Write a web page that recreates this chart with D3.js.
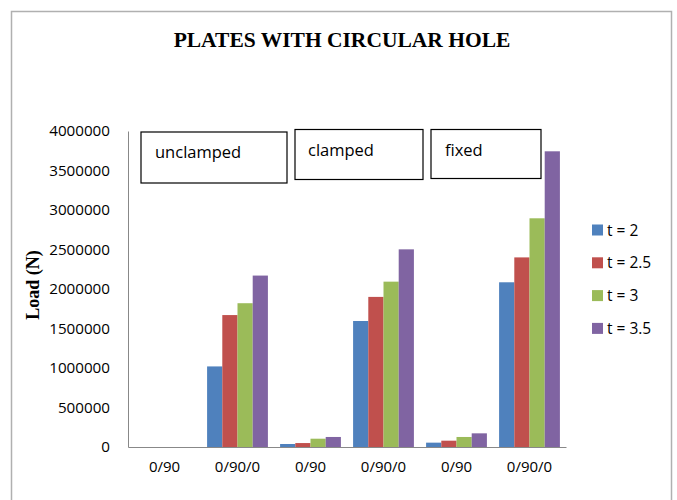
<!DOCTYPE html>
<html>
<head>
<meta charset="utf-8">
<script src="https://cdn.jsdelivr.net/npm/d3@7"></script>
<style>
  html, body { margin: 0; padding: 0; background: #fff; }
  svg { display: block; }
</style>
</head>
<body>
<svg id="chart" width="677" height="500"></svg>
<script>
const categories = ["0/90", "0/90/0", "0/90", "0/90/0", "0/90", "0/90/0"];
const seriesNames = ["t = 2", "t = 2.5", "t = 3", "t = 3.5"];
const seriesColors = ["#4f81bd", "#c0504d", "#9bbb59", "#8064a2"];
const t2  = [0, 1020000, 38000, 1595000, 55000, 2085000];
const t25 = [0, 1670000, 50000, 1900000, 80000, 2400000];
const t3  = [0, 1820000, 105000, 2093000, 127000, 2895000];
const t35 = [0, 2170000, 127000, 2502000, 173000, 3743000];
const yTicks = [0, 500000, 1000000, 1500000, 2000000, 2500000, 3000000, 3500000, 4000000];
const boxLabels = ["unclamped", "clamped", "fixed"];
const title = "PLATES WITH CIRCULAR HOLE";
const yTitle = "Load (N)";

const series = [t2, t25, t3, t35];

const svg = d3.select("#chart");

// outer frame
svg.append("rect")
  .attr("x", 11.5).attr("y", 11.5)
  .attr("width", 660).attr("height", 500)
  .attr("fill", "#fff")
  .attr("stroke", "#b0b0b0").attr("stroke-width", 1.5);

const plot = { left: 128, right: 566, top: 131, bottom: 447 };

const x0 = d3.scaleBand()
  .domain(d3.range(categories.length))
  .range([plot.left, plot.right])
  .paddingInner(0.167).paddingOuter(0.0835);

const x1 = d3.scaleBand()
  .domain(d3.range(series.length))
  .range([0, x0.bandwidth()]);

const y = d3.scaleLinear().domain([0, 4000000]).range([plot.bottom, plot.top]);

// title
svg.append("text")
  .attr("x", 342).attr("y", 47)
  .attr("text-anchor", "middle")
  .attr("font-family", "'Liberation Serif', 'Times New Roman', serif")
  .attr("font-weight", "bold")
  .attr("font-size", 21.5)
  .attr("fill", "#000")
  .text(title);

// y axis title
svg.append("text")
  .attr("transform", "translate(39,285) rotate(-90)")
  .attr("text-anchor", "middle")
  .attr("font-family", "'Liberation Serif', 'Times New Roman', serif")
  .attr("font-weight", "bold")
  .attr("font-size", 18)
  .attr("fill", "#000")
  .text(yTitle);

// y axis
const yAxis = d3.axisLeft(y)
  .tickValues(yTicks)
  .tickSize(0)
  .tickPadding(18)
  .tickFormat(d3.format("d"));
const gy = svg.append("g")
  .attr("transform", `translate(${plot.left},0)`)
  .call(yAxis);
gy.select(".domain").attr("stroke", "#888").attr("stroke-width", 1);
gy.selectAll("text")
  .attr("font-family", "'Open Sans', 'Liberation Sans', sans-serif")
  .attr("font-size", 15.2)
  .attr("fill", "#000");

// bars
const groups = svg.append("g").selectAll("g")
  .data(categories.map((c, i) => i))
  .join("g")
  .attr("transform", i => `translate(${x0(i)},0)`);

groups.selectAll("rect")
  .data(i => series.map((s, k) => ({ k, v: s[i] })))
  .join("rect")
  .attr("x", d => x1(d.k))
  .attr("width", x1.bandwidth())
  .attr("y", d => y(d.v))
  .attr("height", d => y(0) - y(d.v))
  .attr("fill", d => seriesColors[d.k]);

// x axis
const xAxis = d3.axisBottom(x0)
  .tickFormat(i => categories[i])
  .tickSize(0)
  .tickPadding(14);
const gx = svg.append("g")
  .attr("transform", `translate(0,${plot.bottom})`)
  .call(xAxis);
gx.select(".domain").attr("stroke", "#888").attr("stroke-width", 1);
gx.selectAll("text")
  .attr("font-family", "'Open Sans', 'Liberation Sans', sans-serif")
  .attr("font-size", 15)
  .attr("fill", "#000");

// text boxes
const boxes = [
  { x: 141, y: 132, w: 146, h: 51, tx: 155, ty: 158 },
  { x: 295, y: 129.5, w: 128, h: 50, tx: 308, ty: 156 },
  { x: 431, y: 129.5, w: 110, h: 49, tx: 445, ty: 156 }
];
const bx = svg.append("g").selectAll("g")
  .data(boxLabels)
  .join("g");
bx.append("rect")
  .attr("x", (d, i) => boxes[i].x)
  .attr("y", (d, i) => boxes[i].y)
  .attr("width", (d, i) => boxes[i].w)
  .attr("height", (d, i) => boxes[i].h)
  .attr("fill", "#fff")
  .attr("stroke", "#000").attr("stroke-width", 1.2);
bx.append("text")
  .attr("x", (d, i) => boxes[i].tx)
  .attr("y", (d, i) => boxes[i].ty)
  .attr("font-family", "'Open Sans', 'Liberation Sans', sans-serif")
  .attr("font-size", 16.5)
  .attr("fill", "#000")
  .text(d => d);

// legend
const legend = svg.append("g").selectAll("g")
  .data(seriesNames)
  .join("g")
  .attr("transform", (d, i) => `translate(592,${230 + i * 32.8})`);
legend.append("rect")
  .attr("x", 0).attr("y", -5.5)
  .attr("width", 11).attr("height", 11)
  .attr("fill", (d, i) => seriesColors[i]);
legend.append("text")
  .attr("x", 15).attr("y", 5.5)
  .attr("font-family", "'Open Sans', 'Liberation Sans', sans-serif")
  .attr("font-size", 15.5)
  .attr("fill", "#000")
  .text(d => d);
</script>
</body>
</html>
